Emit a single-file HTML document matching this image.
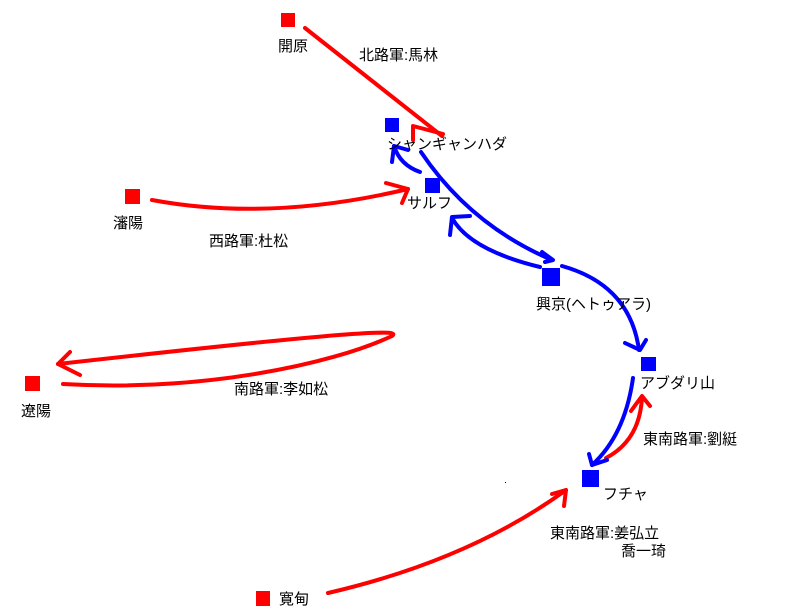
<!DOCTYPE html>
<html><head><meta charset="utf-8"><style>
body{margin:0;background:#fff;}
svg{display:block}
text{font-family:"Liberation Sans","Noto Sans CJK JP",sans-serif;font-size:15px;fill:#000}
</style></head><body>
<svg width="785" height="615" viewBox="0 0 785 615">
<g fill="#f00">
<rect x="281" y="13" width="14" height="14"/>
<rect x="125" y="189" width="15" height="15"/>
<rect x="25" y="376" width="15" height="15"/>
<rect x="256" y="591" width="14" height="15"/>
</g>
<g fill="#00f">
<rect x="385" y="118" width="14" height="14"/>
<rect x="425" y="178" width="15" height="15"/>
<rect x="542" y="268" width="18" height="18"/>
<rect x="641" y="357" width="15" height="14"/>
<rect x="582" y="470" width="17" height="17"/>
</g>
<g fill="none" stroke="#f00" stroke-width="4" stroke-linecap="round" stroke-linejoin="round">
<path d="M305 28 L442 136"/>
<path d="M413 140 L413 126 L443 134"/>
<path d="M152 200 Q270 222 408 189"/>
<path d="M386 183 L408 189 L402 203"/>
<path d="M63 384 C200 392 330 365 392 336 C400 330 380 328 58 364"/>
<path d="M70 352 L58 364 L80 375"/>
<path d="M328 593 Q470 560 566 490"/>
<path d="M552 494 L566 490 L564 506"/>
<path d="M606 458 Q640 440 642 397"/>
<path d="M631 411 L642 396 L650 406"/>
</g>
<g fill="none" stroke="#00f" stroke-width="4" stroke-linecap="round" stroke-linejoin="round">
<path d="M420 172 Q400 165 394 146"/>
<path d="M392 162 L394 146 L408 150"/>
<path d="M421 152 Q470 225 552 260"/>
<path d="M542 252 L553 260 L545 262"/>
<path d="M540 267 Q470 250 452 218"/>
<path d="M450 235 L452 217 L470 216"/>
<path d="M562 266 Q630 285 639 350"/>
<path d="M625 343 L640 350 L646 340"/>
<path d="M633 378 Q625 435 592 465"/>
<path d="M589 454 L592 465 L607 460"/>
</g>
<text x="278" y="51">開原</text>
<text x="359" y="60">北路軍:馬林</text>
<text x="387" y="149">シャンギャンハダ</text>
<text x="113" y="228">瀋陽</text>
<text x="407" y="208">サルフ</text>
<text x="209" y="246">西路軍:杜松</text>
<text x="536" y="309">興京(ヘトゥアラ)</text>
<text x="640" y="388">アブダリ山</text>
<text x="21" y="416">遼陽</text>
<text x="234" y="394">南路軍:李如松</text>
<text x="643" y="444">東南路軍:劉綎</text>
<text x="603" y="499">フチャ</text>
<text x="550" y="538">東南路軍:姜弘立</text>
<text x="621" y="556">喬一琦</text>
<text x="279" y="604">寛甸</text>
<rect x="505" y="482" width="1" height="1" fill="#000"/>
</svg>
</body></html>
